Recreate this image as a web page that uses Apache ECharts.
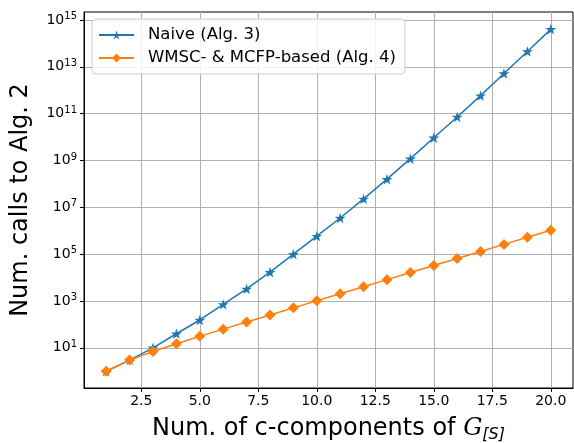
<!DOCTYPE html>
<html>
<head>
<meta charset="utf-8">
<script src="https://cdn.jsdelivr.net/npm/echarts@6/dist/echarts.min.js"></script>
<style>
html,body{margin:0;padding:0;background:#fff;}
#chart{width:574px;height:443px;}
</style>
</head>
<body>
<div id="chart"></div>
<script>
const components = [1,2,3,4,5,6,7,8,9,10,11,12,13,14,15,16,17,18,19,20];
const naiveCalls = [1, 3, 10, 40, 155, 720, 3300, 17000, 100000, 590000, 3500000, 23000000, 160000000, 1200000000, 9400000000, 72000000000, 590000000000, 5.2e12, 4.5e13, 4.0e14];
const wmscCalls = [1, 3, 7, 15, 31, 63, 127, 255, 511, 1023, 2047, 4095, 8191, 16383, 32767, 65535, 131071, 262143, 524287, 1048575];
const xTicks = [2.5, 5.0, 7.5, 10.0, 12.5, 15.0, 17.5, 20.0];
const yTicks = [1e1, 1e3, 1e5, 1e7, 1e9, 1e11, 1e13, 1e15];
const seriesNames = ['Naive (Alg. 3)', 'WMSC- & MCFP-based (Alg. 4)'];

const starPath = 'path://M0,-1L0.2245,-0.309L0.951,-0.309L0.3633,0.118L0.588,0.809L0,0.382L-0.588,0.809L-0.3633,0.118L-0.951,-0.309L-0.2245,-0.309Z';
const FONT = 'DejaVu Sans';
const chart = echarts.init(document.getElementById('chart'), null, {renderer: 'canvas'});
const pairs = (ys) => components.map((x, i) => [x, ys[i]]);

chart.setOption({
  animation: false,
  backgroundColor: '#ffffff',
  textStyle: {fontFamily: FONT},
  grid: {left: 84, right: 1, top: 12, bottom: 55, containLabel: false, outerBoundsMode: 'none',
         show: true, borderColor: '#000', borderWidth: 1, backgroundColor: 'transparent'},
  legend: {
    orient: 'vertical', left: 92, top: 19,
    padding: [7, 9, 7, 6], itemGap: 5, itemWidth: 35, itemHeight: 11,
    backgroundColor: 'rgba(255,255,255,0.85)', borderColor: '#cccccc', borderWidth: 1, borderRadius: 4,
    textStyle: {fontFamily: FONT, fontSize: 16.5, color: '#000', lineHeight: 18, padding: [0, 0, 0, 9]},
    data: seriesNames
  },
  xAxis: {
    type: 'value', min: 0.05, max: 20.95,
    name: 'Num. of c-components of {g|G}{sub|[S]}',
    nameLocation: 'middle', nameGap: 27,
    nameTextStyle: {fontFamily: FONT, fontSize: 24, color: '#000', verticalAlign: 'top',
      rich: {g: {fontFamily: 'DejaVu Serif', fontStyle: 'italic', fontSize: 24, color: '#000'},
             sub: {fontFamily: FONT, fontStyle: 'italic', fontSize: 16, color: '#000', padding: [12, 0, 0, 0]}}},
    axisLine: {show: true, onZero: false, lineStyle: {color: '#000', width: 1}},
    axisTick: {show: true, length: 4, customValues: xTicks, lineStyle: {color: '#000'}},
    axisLabel: {customValues: xTicks, fontFamily: FONT, fontSize: 14, color: '#000', margin: 6,
      formatter: v => Number(v).toFixed(1)},
    splitLine: {show: true, lineStyle: {color: '#b0b0b0', width: 1}}
  },
  yAxis: {
    type: 'log', logBase: 10, min: 0.193, max: 2.2e15,
    name: 'Num. calls to Alg. 2',
    nameLocation: 'middle', nameGap: 51,
    nameTextStyle: {fontFamily: FONT, fontSize: 24, color: '#000'},
    axisLine: {show: true, onZero: false, lineStyle: {color: '#000', width: 1}},
    axisTick: {show: true, length: 4, customValues: yTicks, lineStyle: {color: '#000'}},
    axisLabel: {customValues: yTicks, fontFamily: FONT, color: '#000', margin: 7,
      formatter: v => '{b|10}{s|' + Math.round(Math.log10(v)) + '}',
      rich: {b: {fontSize: 14, fontFamily: FONT, color: '#000'},
             s: {fontSize: 10, fontFamily: FONT, color: '#000', padding: [0, 0, 7, 0]}}},
    splitLine: {show: true, lineStyle: {color: '#b0b0b0', width: 1}},
    minorTick: {show: false}, minorSplitLine: {show: false}
  },
  series: [
    {name: seriesNames[0], type: 'line', data: pairs(naiveCalls), color: '#1f77b4',
     symbol: starPath, symbolSize: 11, symbolKeepAspect: true, showSymbol: true,
     lineStyle: {width: 1.5, color: '#1f77b4'}, itemStyle: {color: '#1f77b4'}, z: 3},
    {name: seriesNames[1], type: 'line', data: pairs(wmscCalls), color: '#ff7f0e',
     symbol: 'diamond', symbolSize: [11, 11], showSymbol: true,
     lineStyle: {width: 1.5, color: '#ff7f0e'}, itemStyle: {color: '#ff7f0e'}, z: 4}
  ]
});
</script>
</body>
</html>
